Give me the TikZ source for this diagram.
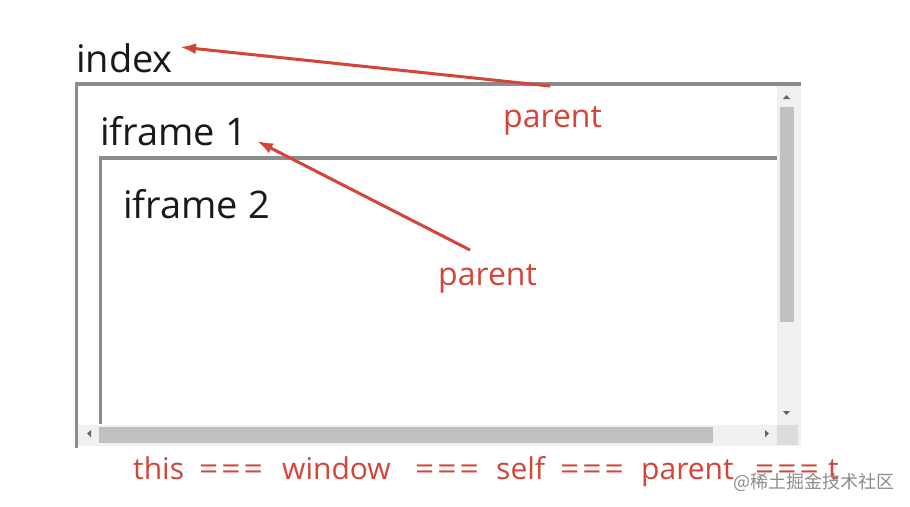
\documentclass[tikz,border=0pt]{standalone}
\usepackage{fontspec}
\usepackage{graphicx}
\setmainfont{Open Sans}
\newfontfamily\cjk{Noto Sans CJK SC}
\usetikzlibrary{arrows.meta}
\definecolor{redc}{RGB}{212,68,56}
\definecolor{framec}{RGB}{140,140,140}
\definecolor{trackc}{RGB}{240,240,240}
\definecolor{thumbc}{RGB}{192,192,192}
\definecolor{cornerc}{RGB}{220,220,220}
\definecolor{arrc}{RGB}{100,100,100}
\newcommand\myeq{\scalebox{1.12}[1]{=}}
\newcommand\myeqq{\myeq\kern3pt\myeq\kern3pt\myeq}
\newcommand\tok[2]{\makebox[#1pt][l]{#2}}
\tikzset{
  frameline/.style={draw=framec, line width=3.5pt},
  blacktxt/.style={anchor=base west, inner sep=0pt, text=black!90, font=\fontsize{38}{42}\selectfont},
  redtxt/.style={anchor=base west, inner sep=0pt, text=redc, font=\fontsize{32}{36}\selectfont},
  bottomtxt/.style={anchor=base west, inner sep=0pt, text=redc, font=\fontsize{30}{34}\selectfont},
  redarrow/.style={draw=redc, line width=3pt, -{Latex[length=16pt,width=11pt]}},
  sbarrow/.style={fill=arrc, draw=none}
}
\begin{document}
\begin{tikzpicture}[x=1pt,y=-1pt]
\useasboundingbox (0,0) rectangle (910,506);
\fill[white] (0,0) rectangle (910,506);
% scrollbars
\fill[trackc] (777,86) rectangle (801,446);
\fill[trackc] (78,425) rectangle (801,446);
\fill[cornerc] (777,425) rectangle (798,445);
\fill[thumbc] (780,107) rectangle (794,322);
\fill[thumbc] (99,427) rectangle (713,443);
\fill[sbarrow] (783,99) -- (790,99) -- (786.5,95) -- cycle;
\fill[sbarrow] (783,411) -- (790,411) -- (786.5,415) -- cycle;
\fill[sbarrow] (91,430) -- (91,437) -- (87,433.5) -- cycle;
\fill[sbarrow] (765,430) -- (765,437) -- (769,433.5) -- cycle;
% outer frame
\draw[frameline] (76.5,448) -- (76.5,84) -- (801,84);
% inner frame
\draw[frameline] (100.5,424) -- (100.5,158) -- (777,158);
% texts
\node[blacktxt] (index) at (76,72) {index};
\node[blacktxt] (if1) at (100,145) {iframe 1};
\node[blacktxt] (if2) at (123,218) {iframe 2};
\node[redtxt] (p1) at (503,127) {parent};
\node[redtxt] (p2) at (438,285) {parent};
\node[bottomtxt] (bottom) at (133,479) {\tok{66}{this}\tok{83}{\myeqq}\tok{133}{window}\tok{81}{\myeqq}\tok{64}{self}\tok{81}{\myeqq}\tok{114}{parent}\tok{73}{\myeqq}t};
\node[anchor=base west, inner sep=0pt, text=black!45, font=\cjk\fontsize{18}{20}\selectfont] (wm) at (733,488) {@稀土掘金技术社区};
% arrows
\coordinate (a1s) at (550,86);
\coordinate (a1e) at (180,47);
\coordinate (a2s) at (470,250);
\coordinate (a2e) at (257,141);
\draw[redarrow] (a1s) -- (a1e);
\draw[redarrow] (a2s) -- (a2e);
\end{tikzpicture}
\end{document}
